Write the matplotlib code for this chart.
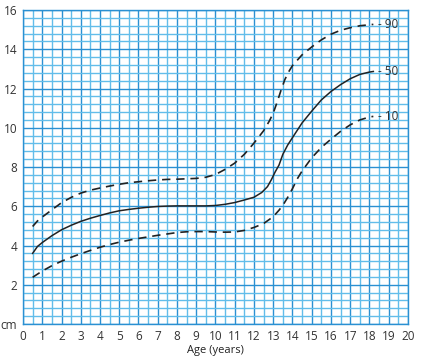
import matplotlib
matplotlib.use("Agg")
import matplotlib.pyplot as plt
from matplotlib.ticker import MultipleLocator

plt.rcParams['font.family'] = ['Open Sans', 'DejaVu Sans']

# Data
age_p50 = [0.5, 0.75, 1.0, 1.5, 2, 2.5, 3, 3.5, 4, 4.5, 5, 5.5, 6, 6.5, 7, 7.5, 8, 8.5,
           9, 9.5, 10, 10.5, 11, 11.5, 12, 12.4, 12.7, 12.9, 13.1, 13.3, 13.5, 13.75,
           14, 14.5, 15, 15.5, 16, 16.5, 17, 17.5, 18, 18.2]
p50 = [3.6, 3.95, 4.15, 4.5, 4.8, 5.03, 5.23, 5.39, 5.53, 5.66, 5.77, 5.84, 5.9, 5.95,
       5.99, 6.01, 6.02, 6.02, 6.02, 6.02, 6.04, 6.1, 6.19, 6.32, 6.46, 6.7, 7.0, 7.35,
       7.75, 8.1, 8.65, 9.12, 9.5, 10.25, 10.85, 11.42, 11.85, 12.2, 12.5, 12.72,
       12.84, 12.87]

age_p90 = [0.5, 0.75, 1.0, 1.5, 2, 2.5, 3, 3.5, 4, 4.5, 5, 5.5, 6, 6.5, 7, 7.5, 8, 8.5,
           9, 9.5, 10, 10.5, 11, 11.5, 12, 12.5, 12.8, 13.0, 13.2, 13.4, 13.6, 13.8,
           14, 14.5, 15, 15.5, 16, 16.5, 17, 17.5, 18, 18.2]
p90 = [4.97, 5.25, 5.45, 5.82, 6.18, 6.45, 6.67, 6.82, 6.93, 7.03, 7.12, 7.2, 7.25,
       7.3, 7.34, 7.37, 7.38, 7.4, 7.42, 7.48, 7.62, 7.88, 8.2, 8.65, 9.22, 9.85,
       10.35, 10.75, 11.3, 11.9, 12.45, 12.85, 13.17, 13.72, 14.12, 14.48, 14.77,
       14.97, 15.1, 15.2, 15.25, 15.27]

age_p10 = [0.5, 1.0, 1.5, 2, 2.5, 3, 3.5, 4, 4.5, 5, 5.5, 6, 6.5, 7, 7.5, 8, 8.5,
           9, 9.5, 10, 10.5, 11, 11.5, 12, 12.5, 13, 13.3, 13.5, 13.75, 14, 14.25,
           14.5, 15, 15.5, 16, 16.5, 17, 17.5, 18, 18.2]
p10 = [2.38, 2.7, 2.97, 3.2, 3.4, 3.58, 3.75, 3.91, 4.05, 4.17, 4.27, 4.36, 4.44,
       4.52, 4.59, 4.66, 4.7, 4.71, 4.71, 4.69, 4.68, 4.69, 4.77, 4.92, 5.12, 5.47,
       5.8, 6.05, 6.45, 6.9, 7.4, 7.8, 8.47, 9.0, 9.42, 9.82, 10.15, 10.4, 10.55,
       10.58]

labels = ["90", "50", "10"]
x_ticks = list(range(0, 21))
y_ticks = [0, 2, 4, 6, 8, 10, 12, 14, 16]
y_tick_labels = ["cm", "2", "4", "6", "8", "10", "12", "14", "16"]

fig = plt.figure(figsize=(4.30, 3.59), dpi=100)
ax = fig.add_axes([0.0535, 0.0975, 0.8953, 0.8745])

major_c = '#2a90d2'
minor_c = '#62bdea'

ax.set_xlim(0, 20)
ax.set_ylim(0, 16)
ax.xaxis.set_major_locator(MultipleLocator(1))
ax.xaxis.set_minor_locator(MultipleLocator(0.5))
ax.yaxis.set_major_locator(MultipleLocator(2))
ax.yaxis.set_minor_locator(MultipleLocator(0.4))
ax.grid(which='minor', color=minor_c, lw=1.0, zorder=0)
ax.grid(which='major', color=major_c, lw=1.0, zorder=0)
ax.set_axisbelow(True)
for s in ax.spines.values():
    s.set_color(major_c)
    s.set_linewidth(1.0)

ax.set_xticks(x_ticks)
ax.set_xticklabels([str(t) for t in x_ticks])
ax.set_yticks(y_ticks)
ax.set_yticklabels(y_tick_labels)
ax.tick_params(which='both', length=0, labelsize=8.5, colors='#333333', pad=4)
ax.set_xlabel("Age (years)", fontsize=8, color='#222222', labelpad=2)

curve_c = '#222222'
ax.plot(age_p90, p90, color=curve_c, lw=1.2, dashes=(5, 3.5), zorder=3)
ax.plot(age_p50, p50, color=curve_c, lw=1.1, zorder=3)
ax.plot(age_p10, p10, color=curve_c, lw=1.2, dashes=(5, 3.5), zorder=3)

for lab, ages, vals in zip(labels, [age_p90, age_p50, age_p10], [p90, p50, p10]):
    ax.text(ages[-1] + 0.22, vals[-1], "- " + lab, fontsize=8.5, color='#333333',
            va='center', ha='left', zorder=4)

fig.savefig("out.png", dpi=100)
